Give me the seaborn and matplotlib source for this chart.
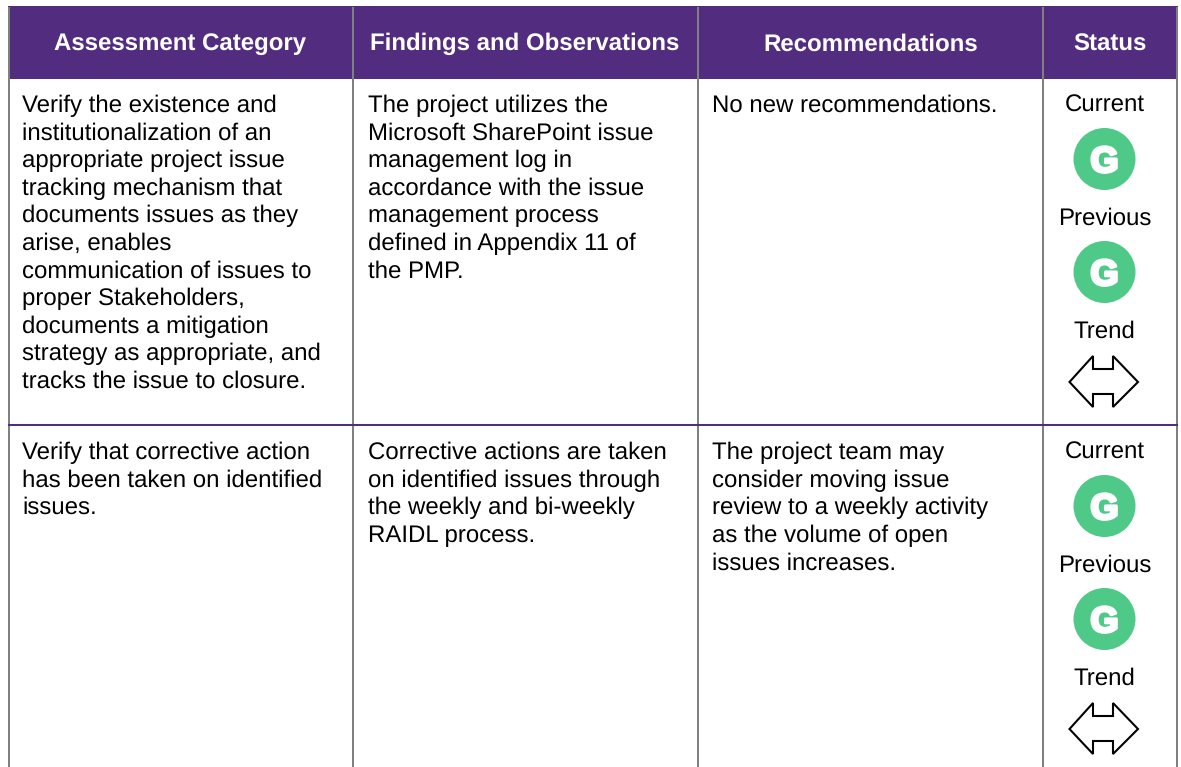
import matplotlib
matplotlib.use("Agg")
import matplotlib.pyplot as plt
import matplotlib.patheffects as pe
from matplotlib.patches import Circle, Polygon, Rectangle
import seaborn as sns

sns.set_theme(style="white")
plt.rcParams['font.family'] = ['Liberation Sans', 'DejaVu Sans']
plt.rcParams['text.hinting'] = 'no_hinting'

headers = ["Assessment Category", "Findings and Observations", "Recommendations", "Status"]
header_centers = [180.5, 525, 870.5, 1109.5]
status_labels = ["Current", "Previous", "Trend"]
status_rating = "G"

row1_col1 = ["Verify the existence and", "institutionalization of an", "appropriate project issue",
             "tracking mechanism that", "documents issues as they", "arise, enables",
             "communication of issues to", "proper Stakeholders,", "documents a mitigation",
             "strategy as appropriate, and", "tracks the issue to closure."]
row1_col2 = ["The project utilizes the", "Microsoft SharePoint issue", "management log in",
             "accordance with the issue", "management process", "defined in Appendix 11 of", "the PMP."]
row1_col3 = ["No new recommendations."]
row2_col1 = ["Verify that corrective action", "has been taken on identified", "issues."]
row2_col2 = ["Corrective actions are taken", "on identified issues through", "the weekly and bi-weekly", "RAIDL process."]
row2_col3 = ["The project team may", "consider moving issue", "review to a weekly activity", "as the volume of open", "issues increases."]

PURPLE = "#522D7F"
GRID = "#808080"
GREEN = "#4FC987"
W, H = 1181, 767
COL_X = [22, 367.5, 712.5]
V_LINES = [9, 352.5, 698, 1043, 1176.5]
PITCH = 27.6
FS = 17.3

fig = plt.figure(figsize=(W / 100, H / 100), dpi=100)
ax = fig.add_axes([0, 0, 1, 1])
ax.set_xlim(0, W)
ax.set_ylim(H, 0)
ax.axis("off")

ax.add_patch(Rectangle((8, 6), 1169.5, 72.5, color=PURPLE, lw=0, zorder=1))
for h, c in zip(headers, header_centers):
    ax.text(c, 50.3, h, color="white", fontsize=17.3, fontweight="bold", ha="center", va="baseline", zorder=4)

for x in V_LINES:
    ax.plot([x, x], [7, H], color=GRID, lw=1.45, zorder=3, solid_capstyle="butt")
ax.plot([8, 1177.5], [424.5, 424.5], color=PURPLE, lw=1.45, zorder=3, solid_capstyle="butt")


def block(lines, x, y0):
    for i, s in enumerate(lines):
        ax.text(x, y0 + i * PITCH, s, color="black", fontsize=FS, ha="left", va="baseline", zorder=4)


for lines, x in zip([row1_col1, row1_col2, row1_col3], COL_X):
    block(lines, x, 112)
for lines, x in zip([row2_col1, row2_col2, row2_col3], COL_X):
    block(lines, x, 459)


def status(y0):
    cx = 1104.5
    for lab, dy in zip(status_labels, [0, 113, 226]):
        ax.text(cx, y0 + dy + 0.5, lab, color="black", fontsize=FS, ha="center", va="baseline", zorder=4)
    for dy in [47.5, 160.5]:
        ax.add_patch(Circle((cx, y0 + dy), 31, color=GREEN, lw=0, zorder=3))
        ax.text(cx, y0 + dy, status_rating, color="white", fontsize=26, fontweight="bold",
                ha="center", va="center_baseline", zorder=4,
                path_effects=[pe.withStroke(linewidth=2.2, foreground="white")])
    c = y0 + 270.5
    pts = [(1069.5, c), (1093, c - 26), (1093, c - 13), (1113, c - 13), (1113, c - 26), (1138, c),
           (1113, c + 25), (1113, c + 12), (1093, c + 12), (1093, c + 25)]
    ax.add_patch(Polygon(pts, closed=True, fc="white", ec="black", lw=1.5, zorder=3, joinstyle="miter"))


status(111.5)
status(458.5)

fig.savefig("out.png", dpi=100, facecolor="white")
